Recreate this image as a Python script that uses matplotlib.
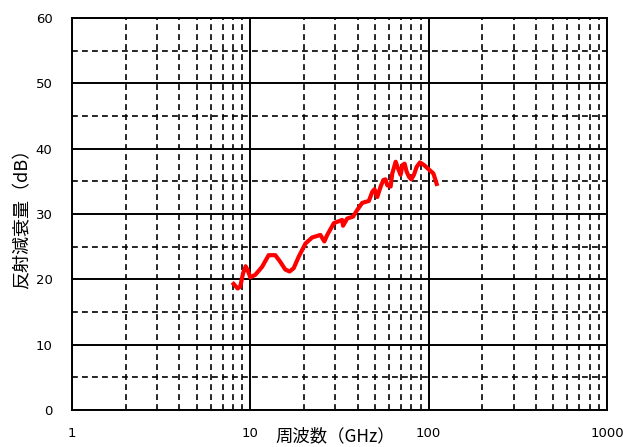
import matplotlib
matplotlib.use("Agg")
import matplotlib.pyplot as plt
from matplotlib.ticker import FixedLocator, NullFormatter

plt.rcParams['font.family'] = ['Noto Sans CJK JP', 'DejaVu Sans']

# reflection loss curve
freq_ghz = [8.06, 8.49, 8.78, 9.1, 9.41, 9.66, 10.0, 10.67, 11.63, 12.67, 13.8,
            14.7, 15.7, 16.6, 17.5, 18.7, 20.4, 22.2, 24.7, 26.0, 27.0, 29.4,
            32.7, 33.1, 34.9, 37.7, 39.7, 42.4, 46.2, 48.3, 49.7, 51.5, 53.8,
            55.7, 57.3, 58.6, 61.2, 62.5, 65.3, 67.3, 69.6, 71.4, 73.3, 75.2,
            77.5, 79.9, 82.7, 85.6, 89.4, 94.1, 100.4, 106.3, 110.9]
loss_db = [19.3, 18.6, 18.9, 20.9, 22.0, 21.4, 20.3, 20.7, 21.9, 23.7, 23.7,
           22.7, 21.5, 21.2, 21.7, 23.5, 25.5, 26.4, 26.8, 25.8, 26.8, 28.6,
           29.1, 28.2, 29.3, 29.6, 30.6, 31.7, 32.0, 33.4, 33.8, 32.6, 34.2,
           35.2, 35.3, 34.4, 34.2, 36.2, 38.0, 37.0, 36.0, 37.5, 37.7, 36.5,
           35.7, 35.3, 36.0, 37.2, 37.9, 37.5, 36.8, 36.2, 34.6]

x_ticks = [1, 10, 100, 1000]
x_labels = ["1", "10", "100", "1000"]
y_ticks = [0, 10, 20, 30, 40, 50, 60]

fig = plt.figure(figsize=(6.23, 4.47), dpi=100)
ax = fig.add_axes([72 / 623, 1 - 410 / 447, 535 / 623, 392 / 447])

ax.plot(freq_ghz, loss_db, color='#ff0000', linewidth=3.0, zorder=3)

ax.set_xscale('log')
ax.set_xlim(1, 1000)
ax.set_ylim(0, 60)

ax.xaxis.set_major_locator(FixedLocator(x_ticks))
ax.set_xticklabels(x_labels)
minor_x = [m * d for d in (1, 10, 100) for m in range(2, 10)]
ax.xaxis.set_minor_locator(FixedLocator(minor_x))
ax.xaxis.set_minor_formatter(NullFormatter())
ax.set_yticks(y_ticks)
ax.set_yticks([5, 15, 25, 35, 45, 55], minor=True)

ax.grid(True, which='major', color='black', linewidth=1.4, linestyle='-')
ax.grid(True, which='minor', color='black', linewidth=1.2, linestyle=(0, (3.5, 2.5)))
ax.tick_params(which='both', length=0)
ax.tick_params(axis='x', pad=12)
ax.tick_params(axis='y', pad=14)
for lab in ax.get_xticklabels() + ax.get_yticklabels():
    lab.set_family('DejaVu Sans')
    lab.set_fontsize(9.5)

for s in ax.spines.values():
    s.set_linewidth(1.4)

fig.text(335 / 623, 1.5 / 447, "周波数（GHz）", fontsize=12.5,
         ha='center', va='bottom')
fig.text(22 / 623, 1 - 214 / 447, "反射減衰量（dB）", fontsize=13,
         ha='center', va='center', rotation=90)

fig.savefig("out.png", dpi=100)
